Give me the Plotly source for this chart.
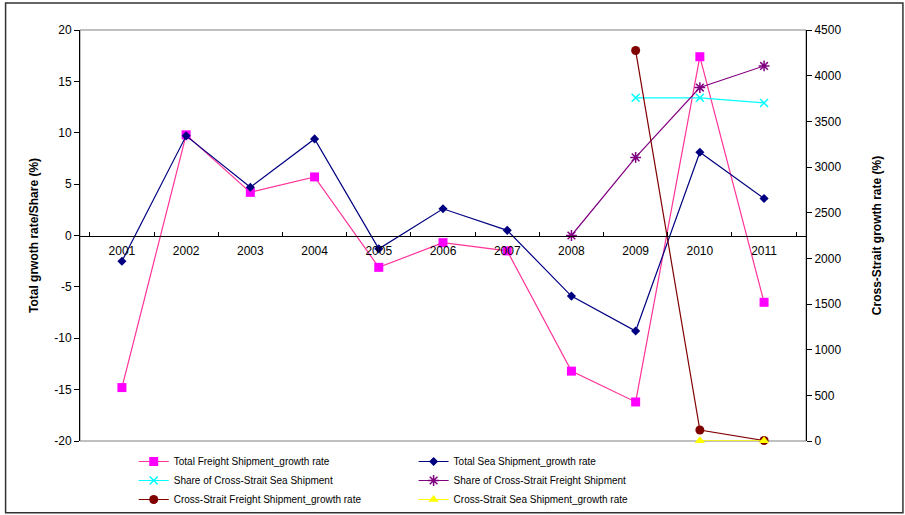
import plotly.graph_objects as go

years = ["2001", "2002", "2003", "2004", "2005", "2006", "2007", "2008", "2009", "2010", "2011"]

# Growth rates and shares (%), left axis
total_freight_growth = [-14.8, 9.8, 4.2, 5.7, -3.1, -0.7, -1.5, -13.2, -16.2, 17.4, -6.5]
total_sea_growth = [-2.5, 9.7, 4.7, 9.4, -1.3, 2.6, 0.5, -5.9, -9.3, 8.1, 3.6]
share_cs_sea = [None, None, None, None, None, None, None, None, 13.4, 13.4, 12.9]
share_cs_freight = [None, None, None, None, None, None, None, 0.0, 7.6, 14.4, 16.5]

# Cross-Strait growth rates (%), right axis
cs_freight_growth = [None, None, None, None, None, None, None, None, 4275, 120, 5]
cs_sea_growth = [None, None, None, None, None, None, None, None, None, 3, 3]

# Left axis ticks, written with plain hyphens
left_tick_vals = [-20, -15, -10, -5, 0, 5, 10, 15, 20]
left_tick_text = ["-20", "-15", "-10", "-5", "0", "5", "10", "15", "20"]

FONT = "Liberation Sans, Arial, sans-serif"

fig = go.Figure()

def add(name, y, line_color, marker_color, symbol, size, axis, legend, marker_line=None):
    marker = dict(color=marker_color, symbol=symbol, size=size)
    if marker_line:
        marker["line"] = dict(color=marker_line, width=1.5)
    fig.add_trace(go.Scatter(
        x=years, y=y, name=name, mode="lines+markers",
        line=dict(color=line_color, width=1.2),
        marker=marker, yaxis=axis, legend=legend,
        cliponaxis=False, connectgaps=False,
    ))

add("Total Freight Shipment_growth rate", total_freight_growth,
    "#FF3399", "#FF00FF", "square", 9, "y", "legend")
add("Share of Cross-Strait Sea Shipment", share_cs_sea,
    "#00FFFF", "#00FFFF", "x-thin-open", 8, "y", "legend", marker_line="#00FFFF")
add("Cross-Strait Freight Shipment_growth rate", cs_freight_growth,
    "#800000", "#800000", "circle", 9, "y2", "legend")
add("Total Sea Shipment_growth rate", total_sea_growth,
    "#000080", "#000080", "diamond", 7, "y", "legend2")
add("Share of Cross-Strait Freight Shipment", share_cs_freight,
    "#800080", "#800080", "asterisk-open", 9, "y", "legend2", marker_line="#800080")
add("Cross-Strait Sea Shipment_growth rate", cs_sea_growth,
    "#FFFF00", "#FFFF00", "triangle-up", 9, "y2", "legend2")

legend_style = dict(
    orientation="v", yanchor="top", xanchor="left",
    font=dict(family=FONT, size=10, color="#000000"),
    bgcolor="rgba(0,0,0,0)", tracegroupgap=0,
)

fig.update_layout(
    width=905, height=515,
    margin=dict(l=80, r=99, t=30, b=74, autoexpand=False),
    paper_bgcolor="white", plot_bgcolor="white",
    font=dict(family=FONT, size=12, color="#000000"),
    showlegend=True,
    legend=dict(x=0.074, y=-0.0146, **legend_style),
    legend2=dict(x=0.4595, y=-0.0146, **legend_style),
    xaxis=dict(
        type="category", anchor="free", position=0.5,
        showline=True, linecolor="#000000", linewidth=1,
        ticks="inside", ticklen=4, tickcolor="#000000", tickson="boundaries",
        showgrid=False, zeroline=False, ticklabelstandoff=4,
        tickfont=dict(family=FONT, size=12),
    ),
    yaxis=dict(
        range=[-20, 20], tickmode="array",
        tickvals=left_tick_vals, ticktext=left_tick_text,
        showgrid=False, zeroline=False,
        showline=True, linecolor="#000000", linewidth=1,
        ticks="outside", ticklen=5, tickcolor="#000000",
        tickfont=dict(family=FONT, size=12),
        title=dict(text="<b>Total grwoth rate/Share (%)</b>", standoff=13,
                   font=dict(family=FONT, size=12)),
    ),
    yaxis2=dict(
        range=[0, 4500], dtick=500, overlaying="y", side="right",
        showgrid=False, zeroline=False,
        showline=True, linecolor="#000000", linewidth=1,
        ticks="outside", ticklen=5, tickcolor="#000000",
        tickfont=dict(family=FONT, size=12),
        title=dict(text="<b>Cross-Strait growth rate (%)</b>", standoff=32,
                   font=dict(family=FONT, size=12)),
    ),
    shapes=[
        # plot area frame
        dict(type="rect", xref="paper", yref="paper", x0=0, x1=1, y0=0, y1=1,
             line=dict(color="#808080", width=1), layer="below"),
        # chart border
        dict(type="rect", xref="paper", yref="paper",
             x0=-0.1025, x1=1.1335, y0=-0.1745, y1=1.0655,
             line=dict(color="#333333", width=1.5), layer="below"),
    ],
)

fig.write_html("out.html")
